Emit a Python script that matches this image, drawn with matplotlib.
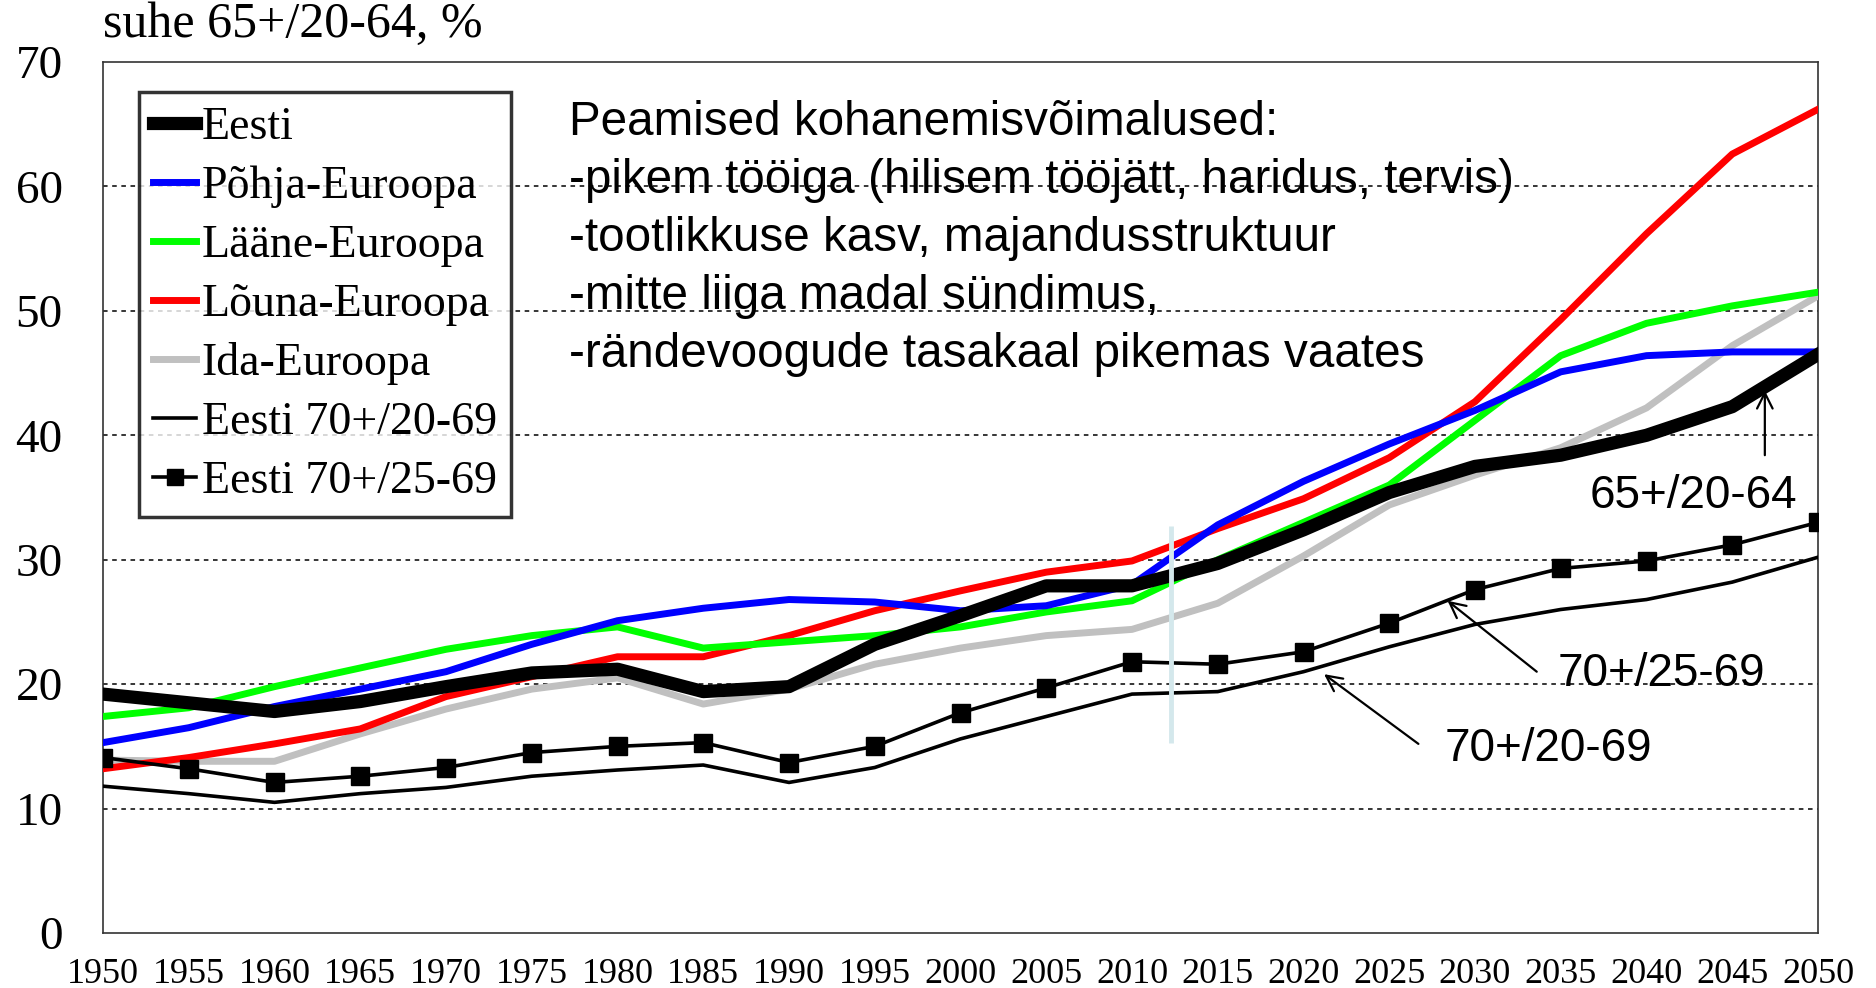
import matplotlib
matplotlib.use("Agg")
import matplotlib.pyplot as plt

# ---------------- data ----------------
years = list(range(1950, 2051, 5))
eesti = [19.2, 18.5, 17.8, 18.6, 19.8, 20.9, 21.2, 19.4, 19.8, 23.2, 25.5, 27.9, 27.9,
         29.7, 32.4, 35.4, 37.5, 38.4, 40.0, 42.3, 46.5]
pohja = [15.3, 16.5, 18.2, 19.6, 21.0, 23.2, 25.1, 26.1, 26.8, 26.6, 25.9, 26.3, 28.0,
         32.8, 36.3, 39.3, 42.0, 45.1, 46.4, 46.7, 46.7]
laane = [17.4, 18.1, 19.8, 21.3, 22.8, 23.9, 24.6, 22.9, 23.4, 23.9, 24.6, 25.8, 26.7,
         30.0, 33.0, 36.0, 41.2, 46.4, 49.0, 50.4, 51.5]
louna = [13.2, 14.1, 15.2, 16.4, 19.0, 20.6, 22.2, 22.2, 23.9, 25.9, 27.5, 29.0, 29.9,
         32.5, 34.9, 38.2, 42.7, 49.3, 56.2, 62.6, 66.2]
ida = [13.9, 13.8, 13.8, 16.0, 18.0, 19.6, 20.5, 18.4, 19.6, 21.6, 22.9, 23.9, 24.4,
       26.5, 30.3, 34.4, 36.8, 39.0, 42.2, 47.2, 51.2]
eesti_70_2069 = [11.8, 11.2, 10.5, 11.2, 11.7, 12.6, 13.1, 13.5, 12.1, 13.3, 15.6, 17.4, 19.2,
                 19.4, 21.0, 23.0, 24.8, 26.0, 26.8, 28.2, 30.2]
eesti_70_2569 = [14.1, 13.2, 12.1, 12.6, 13.3, 14.5, 15.0, 15.3, 13.7, 15.0, 17.7, 19.7, 21.8,
                 21.6, 22.6, 24.9, 27.6, 29.3, 29.9, 31.2, 33.0]

labels = ["Eesti", "Põhja-Euroopa", "Lääne-Euroopa", "Lõuna-Euroopa", "Ida-Euroopa",
          "Eesti 70+/20-69", "Eesti 70+/25-69"]
y_ticks = [0, 10, 20, 30, 40, 50, 60, 70]
y_title = "suhe 65+/20-64, %"
note_lines = ["Peamised kohanemisvõimalused:",
              "-pikem tööiga (hilisem tööjätt, haridus, tervis)",
              "-tootlikkuse kasv, majandusstruktuur",
              "-mitte liiga madal sündimus,",
              "-rändevoogude tasakaal pikemas vaates"]

# current-year marker
marker_year = 2012.3
marker_range = (15.3, 32.7)

# annotations: text, text position, arrow tail, arrow head
annots = [
    ("65+/20-64", (2036.7, 35.1), (2046.9, 38.4), (2046.9, 43.6)),
    ("70+/25-69", (2034.8, 20.8), (2033.6, 21.0), (2028.4, 26.7)),
    ("70+/20-69", (2028.2, 14.8), (2026.7, 15.2), (2021.2, 20.8)),
]

SERIF = ["Liberation Serif", "DejaVu Serif"]
SANS = ["Liberation Sans", "DejaVu Sans"]

# ---------------- figure ----------------
fig = plt.figure(figsize=(18.76, 9.88), dpi=100)
fig.patch.set_facecolor("white")
ax = fig.add_axes([103 / 1876, 55 / 988, 1715 / 1876, 871 / 988])

ax.plot(years, ida, color="#c0c0c0", lw=5, label=labels[4], zorder=3)
ax.plot(years, louna, color="#ff0000", lw=5, label=labels[3], zorder=3.1)
ax.plot(years, laane, color="#00ff00", lw=5, label=labels[2], zorder=3.2)
ax.plot(years, pohja, color="#0000ff", lw=5, label=labels[1], zorder=3.3)
ax.plot(years, eesti, color="black", lw=9.5, label=labels[0], zorder=3.5)
ax.plot(years, eesti_70_2069, color="black", lw=2.6, label=labels[5], zorder=3.4)
ax.plot(years, eesti_70_2569, color="black", lw=2.6, marker="s", markersize=13,
        label=labels[6], zorder=3.4)

# current-year marker line
ax.plot([marker_year, marker_year], list(marker_range), color="#d4e8ec", lw=3.5,
        solid_capstyle="butt", zorder=4)

ax.set_xlim(years[0], years[-1])
ax.set_ylim(y_ticks[0], y_ticks[-1])
ax.set_xticks(years)
ax.set_xticklabels([str(y) for y in years], fontfamily=SERIF, fontsize=26)
ax.set_yticks(y_ticks)
ax.set_yticklabels([str(v) for v in y_ticks], fontfamily=SERIF, fontsize=34)
ax.tick_params(axis="both", length=0)
ax.tick_params(axis="x", pad=18)
ax.tick_params(axis="y", pad=29)

for yv in y_ticks[1:-1]:
    ax.axhline(yv, color="black", lw=1.1, ls=(0, (3, 3)), zorder=1)

for s in ax.spines.values():
    s.set_color("#333333")
    s.set_linewidth(1.2)

# legend in the order of the reference
handles, labs = ax.get_legend_handles_labels()
order = [labs.index(l) for l in labels]
leg = ax.legend([handles[i] for i in order], [labs[i] for i in order],
                loc="upper left", bbox_to_anchor=(0.021, 0.965),
                prop={"family": SERIF, "size": 33}, frameon=True, fancybox=False,
                edgecolor="black", handlelength=0.95, handletextpad=0.12,
                labelspacing=0.36, borderpad=0.3, borderaxespad=0.0,
                markerscale=0.85)
leg.get_frame().set_linewidth(2.5)
leg.set_zorder(6)

# title above axes
fig.text(103 / 1876, 1 - 25 / 988, y_title, fontfamily=SERIF, fontsize=36,
         ha="left", va="center")

# note block
for i, line in enumerate(note_lines):
    ax.text(0.272, 0.930 - i * 0.0665, line, transform=ax.transAxes,
            fontfamily=SANS, fontsize=34.3, ha="left", va="center", zorder=5)

# annotations
for txt, tpos, tail, head in annots:
    ax.text(tpos[0], tpos[1], txt, fontfamily=SANS, fontsize=33, ha="left",
            va="center", zorder=5)
    ax.annotate("", xy=head, xytext=tail,
                arrowprops=dict(arrowstyle="->", color="black", lw=1.6,
                                mutation_scale=28, shrinkA=0, shrinkB=0),
                zorder=5)

fig.savefig("out.png", dpi=100, facecolor="white")
